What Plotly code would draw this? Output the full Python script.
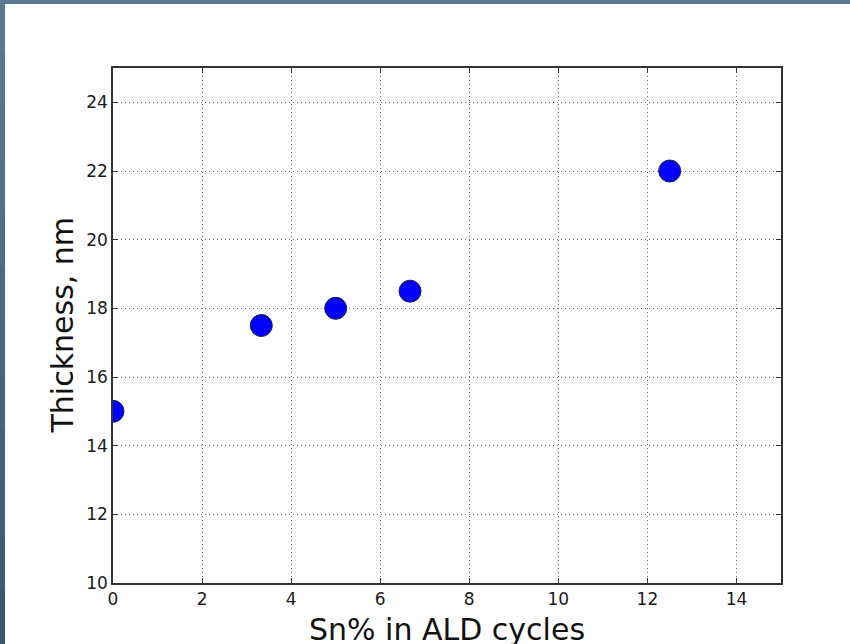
import plotly.graph_objects as go

sn_percent = [0.0, 3.33, 5.0, 6.67, 12.5]
thickness = [15.0, 17.5, 18.0, 18.5, 22.0]
x_ticks = [0, 2, 4, 6, 8, 10, 12, 14]
y_ticks = [10, 12, 14, 16, 18, 20, 22, 24]

W, H = 850, 644
L, R, T, B = 113, 69, 68, 61
pw, ph = W - L - R, H - T - B

def px_x(p):
    return (p - L) / pw

def px_y(p):
    return (H - B - p) / ph

fig = go.Figure()
fig.add_trace(go.Scatter(
    x=sn_percent, y=thickness, mode="markers",
    marker=dict(size=22, color="#0000ff", line=dict(color="#202040", width=1)),
    cliponaxis=True, showlegend=False,
))

axis_common = dict(
    showline=True, linecolor="#333333", linewidth=1.5, mirror="ticks",
    ticks="inside", ticklen=5, tickwidth=1, tickcolor="#333333",
    showgrid=True, gridcolor="#6e6e6e", gridwidth=1, griddash="1px,3px",
    zeroline=False, tickfont=dict(family="DejaVu Sans", size=17, color="#1a1a1a"),
)
fig.update_xaxes(range=[0, 15], tickvals=x_ticks, **axis_common)
fig.update_yaxes(range=[10, 25], tickvals=y_ticks, **axis_common)

shapes = []
# top border strip
shapes.append(dict(type="rect", xref="paper", yref="paper",
                   x0=px_x(0), x1=px_x(W), y0=px_y(4), y1=px_y(0),
                   fillcolor="#5b7a92", line=dict(width=0), layer="above"))
# left border strip with gradient
n = 12
c0 = (0x5b, 0x7a, 0x92)
c1 = (0x3c, 0x58, 0x6e)
for i in range(n):
    t = i / (n - 1)
    col = "rgb(%d,%d,%d)" % tuple(int(a + (b - a) * t) for a, b in zip(c0, c1))
    shapes.append(dict(type="rect", xref="paper", yref="paper",
                       x0=px_x(0), x1=px_x(5),
                       y0=px_y(min(H, H * (i + 1) / n + 2)), y1=px_y(max(0, H * i / n - 1)),
                       fillcolor=col, line=dict(width=0), layer="above"))

fig.update_layout(
    width=W, height=H,
    margin=dict(l=L, r=R, t=T, b=B, autoexpand=False),
    paper_bgcolor="white", plot_bgcolor="white",
    shapes=shapes,
    annotations=[
        dict(text="Sn% in ALD cycles", xref="paper", yref="paper",
             x=0.5, y=px_y(629), xanchor="center", yanchor="middle",
             showarrow=False, font=dict(family="DejaVu Sans", size=30, color="#111111")),
        dict(text="Thickness, nm", xref="paper", yref="paper",
             x=px_x(62), y=0.5, xanchor="center", yanchor="middle", textangle=-90,
             showarrow=False, font=dict(family="DejaVu Sans", size=30, color="#111111")),
    ],
)

fig.write_html("out.html")
